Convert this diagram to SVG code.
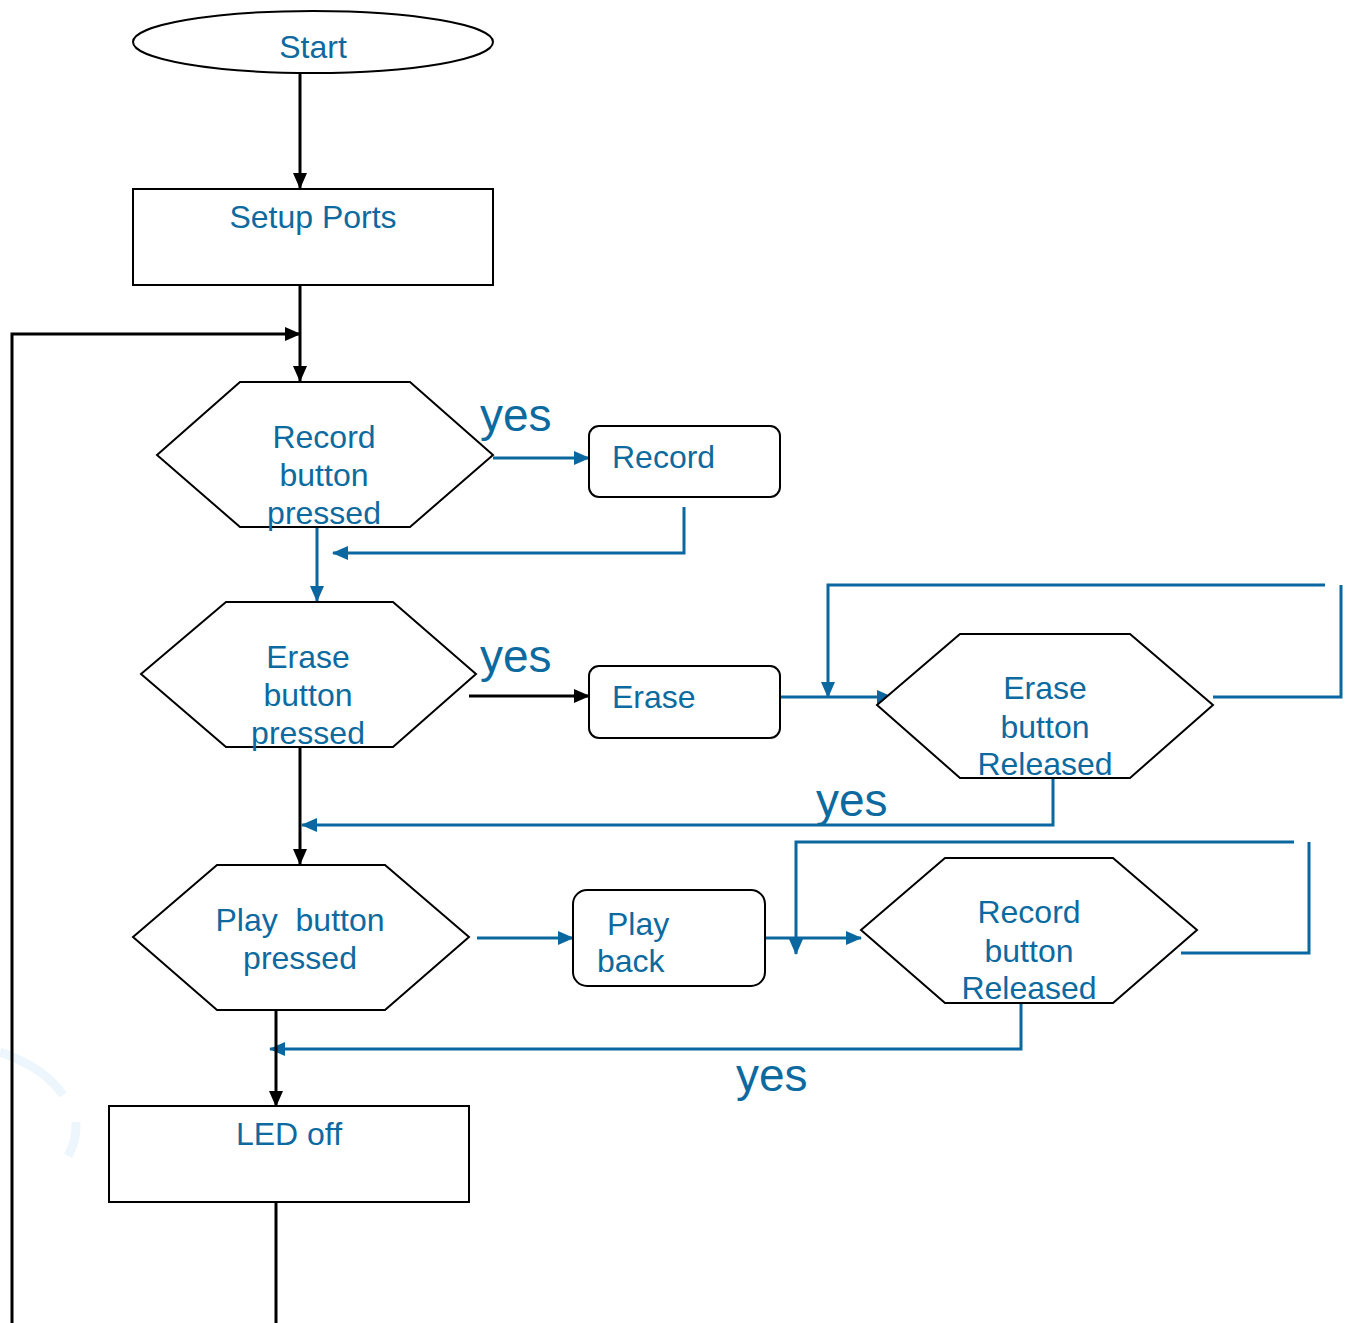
<svg xmlns="http://www.w3.org/2000/svg" width="1351" height="1323" viewBox="0 0 1351 1323">
<defs>
<style>
.shape{fill:#fff;stroke:#000;stroke-width:2}
.t{font-family:"Liberation Sans",Arial,sans-serif;font-size:32px;fill:#0d6a9f}
.m{text-anchor:middle}
.yes{font-family:"Liberation Sans",Arial,sans-serif;font-size:46px;fill:#0d6a9f}
.k{fill:none;stroke:#000;stroke-width:3}
.b{fill:none;stroke:#0b679f;stroke-width:3}
</style>
<marker id="ak" markerUnits="userSpaceOnUse" markerWidth="16" markerHeight="14" refX="15" refY="7" orient="auto"><path d="M0,0 L16,7 L0,14 Z" fill="#000"/></marker>
<marker id="ab" markerUnits="userSpaceOnUse" markerWidth="16" markerHeight="14" refX="15" refY="7" orient="auto"><path d="M0,0 L16,7 L0,14 Z" fill="#0b679f"/></marker>
</defs>
<rect width="1351" height="1323" fill="#fff"/>
<path d="M0,1052 Q45,1068 63,1095" fill="none" stroke="#edf6fd" stroke-width="9"/>
<path d="M76,1122 Q77,1140 68,1156" fill="none" stroke="#edf6fd" stroke-width="9"/>
<g id="connectors">
<path class="k" d="M300,73 V188" marker-end="url(#ak)"/>
<path class="k" d="M300,285 V381" marker-end="url(#ak)"/>
<path class="k" d="M12,1323 V334 H300" marker-end="url(#ak)"/>
<path class="b" d="M493,458 H589" marker-end="url(#ab)"/>
<path class="b" d="M684,507 V553 H333" marker-end="url(#ab)"/>
<path class="b" d="M317,522 V601" marker-end="url(#ab)"/>
<path class="k" d="M469,696 H589" marker-end="url(#ak)"/>
<path class="b" d="M780,697 H892" marker-end="url(#ab)"/>
<path class="b" d="M1213,697 H1341 V585"/>
<path class="b" d="M1325,585 H828 V697" marker-end="url(#ab)"/>
<path class="b" d="M1053,778 V825 H302" marker-end="url(#ab)"/>
<path class="k" d="M300,747 V864" marker-end="url(#ak)"/>
<path class="b" d="M477,938 H573" marker-end="url(#ab)"/>
<path class="b" d="M765,938 H861" marker-end="url(#ab)"/>
<path class="b" d="M1181,953 H1309 V842"/>
<path class="b" d="M1294,842 H796 V954" marker-end="url(#ab)"/>
<path class="b" d="M1021,1003 V1049 H270" marker-end="url(#ab)"/>
<path class="k" d="M276,1010 V1106" marker-end="url(#ak)"/>
<path class="k" d="M276,1202 V1323"/>
</g>
<g id="start"><ellipse class="shape" cx="313" cy="42" rx="180" ry="31"/><text class="t m" x="313" y="58">Start</text></g>
<g id="setup"><rect class="shape" x="133" y="189" width="360" height="96"/><text class="t m" x="313" y="228">Setup Ports</text></g>
<g id="rec-pressed"><polygon class="shape" points="157,455 240,382 410,382 493,455 410,527 240,527"/>
<text class="t m" x="324" y="448">Record</text><text class="t m" x="324" y="486">button</text><text class="t m" x="324" y="524">pressed</text></g>
<text class="yes" x="480" y="431">yes</text>
<g id="record"><rect class="shape" x="589" y="426" width="191" height="71" rx="10"/><text class="t" x="612" y="468">Record</text></g>
<g id="erase-pressed"><polygon class="shape" points="141,674 226,602 393,602 476,674 393,747 226,747"/>
<text class="t m" x="308" y="668">Erase</text><text class="t m" x="308" y="706">button</text><text class="t m" x="308" y="744">pressed</text></g>
<text class="yes" x="480" y="672">yes</text>
<g id="erase"><rect class="shape" x="589" y="666" width="191" height="72" rx="10"/><text class="t" x="612" y="708">Erase</text></g>
<g id="erase-released"><polygon class="shape" points="877,705 960,634 1130,634 1213,705 1130,778 960,778"/>
<text class="t m" x="1045" y="699">Erase</text><text class="t m" x="1045" y="738">button</text><text class="t m" x="1045" y="775">Released</text></g>
<text class="yes" x="816" y="816">yes</text>
<g id="play-pressed"><polygon class="shape" points="133,937 217,865 385,865 469,937 385,1010 217,1010"/>
<text class="t m" x="300" y="931" xml:space="preserve">Play  button</text><text class="t m" x="300" y="969">pressed</text></g>
<g id="playback"><rect class="shape" x="573" y="890" width="192" height="96" rx="14"/><text class="t" x="607" y="935">Play</text><text class="t" x="597" y="972">back</text></g>
<g id="rec-released"><polygon class="shape" points="861,930 945,858 1113,858 1197,930 1113,1003 945,1003"/>
<text class="t m" x="1029" y="923">Record</text><text class="t m" x="1029" y="962">button</text><text class="t m" x="1029" y="999">Released</text></g>
<text class="yes" x="736" y="1091">yes</text>
<g id="led"><rect class="shape" x="109" y="1106" width="360" height="96"/><text class="t m" x="289" y="1145">LED off</text></g>
</svg>
